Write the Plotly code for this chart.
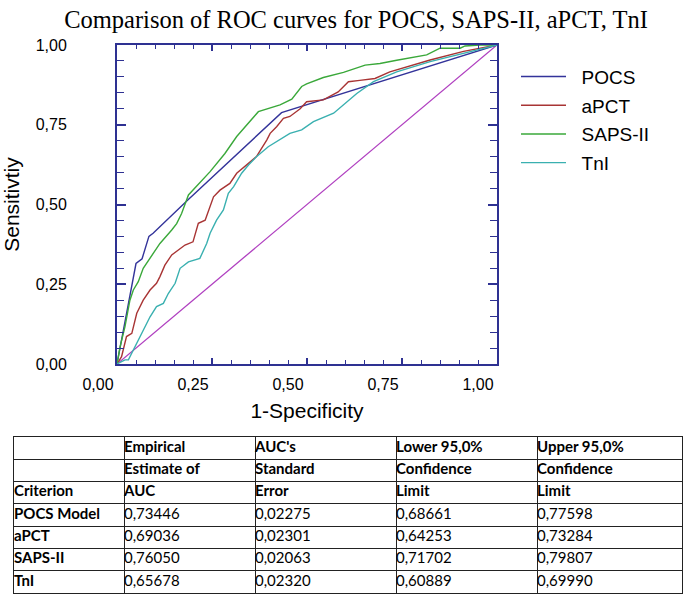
import plotly.graph_objects as go

# ---------------- data ----------------
pocs_x = [0, 0.05, 0.066, 0.084, 0.095, 0.187, 0.433, 1.0]
pocs_y = [0, 0.315, 0.33, 0.40, 0.41, 0.515, 0.788, 1.0]

apct_x = [0, 0.012, 0.025, 0.039, 0.052, 0.069, 0.087, 0.104, 0.113, 0.126, 0.144, 0.166, 0.179, 0.2,
          0.214, 0.232, 0.245, 0.254, 0.271, 0.297, 0.315, 0.341, 0.367, 0.394, 0.403, 0.42, 0.438,
          0.455, 0.482, 0.499, 0.543, 0.582, 0.609, 0.639, 0.679, 0.718, 0.762, 0.824, 0.912, 1.0]
apct_y = [0, 0.023, 0.086, 0.096, 0.159, 0.2, 0.232, 0.253, 0.274, 0.31, 0.342, 0.362, 0.373, 0.383,
          0.441, 0.451, 0.493, 0.524, 0.545, 0.566, 0.598, 0.624, 0.65, 0.702, 0.723, 0.744, 0.77,
          0.776, 0.8, 0.822, 0.828, 0.853, 0.885, 0.889, 0.895, 0.916, 0.932, 0.953, 0.98, 1.0]

saps_x = [0, 0.008, 0.021, 0.034, 0.043, 0.056, 0.069, 0.087, 0.113, 0.144, 0.157, 0.17, 0.188, 0.245,
          0.284, 0.315, 0.372, 0.429, 0.46, 0.486, 0.499, 0.543, 0.596, 0.653, 0.692, 0.736, 0.815,
          0.85, 0.903, 0.916, 0.955, 1.0]
saps_y = [0, 0.054, 0.117, 0.2, 0.232, 0.258, 0.30, 0.331, 0.378, 0.42, 0.44, 0.472, 0.53, 0.603,
          0.66, 0.713, 0.791, 0.812, 0.83, 0.87, 0.878, 0.898, 0.914, 0.937, 0.942, 0.952, 0.969,
          0.99, 0.99, 0.997, 1.0, 1.0]

tni_x = [0, 0.021, 0.03, 0.047, 0.06, 0.074, 0.087, 0.104, 0.122, 0.135, 0.153, 0.166, 0.188, 0.218,
         0.236, 0.245, 0.262, 0.28, 0.293, 0.307, 0.328, 0.346, 0.367, 0.398, 0.429, 0.455, 0.486,
         0.517, 0.57, 0.6, 0.631, 0.675, 0.736, 0.824, 0.912, 1.0]
tni_y = [0, 0.013, 0.013, 0.054, 0.086, 0.117, 0.148, 0.18, 0.19, 0.221, 0.253, 0.30, 0.32, 0.331,
         0.378, 0.41, 0.451, 0.483, 0.535, 0.556, 0.598, 0.624, 0.65, 0.681, 0.705, 0.723, 0.734,
         0.76, 0.786, 0.817, 0.848, 0.885, 0.916, 0.948, 0.974, 1.0]

ref_x = [0, 1]
ref_y = [0, 1]

tick_vals = [0, 0.25, 0.5, 0.75, 1.0]
tick_text = ["0,00", "0,25", "0,50", "0,75", "1,00"]

table_criterion = ["POCS Model", "aPCT", "SAPS-II", "TnI"]
table_auc = ["0,73446", "0,69036", "0,76050", "0,65678"]
table_se = ["0,02275", "0,02301", "0,02063", "0,02320"]
table_lower = ["0,68661", "0,64253", "0,71702", "0,60889"]
table_upper = ["0,77598", "0,73284", "0,79807", "0,69990"]
table_head1 = ["", "Empirical", "AUC's", "Lower 95,0%", "Upper 95,0%"]
table_head2 = ["", "Estimate of", "Standard", "Confidence", "Confidence"]
table_head3 = ["Criterion", "AUC", "Error", "Limit", "Limit"]

# ---------------- layout geometry ----------------
W, H = 685, 594
L, R, T, B = 117, 497, 45, 364
TB_L, TB_R, TB_T, TB_B = 14, 682, 437, 593
col_edges = [0, 110, 241, 382, 523, 668]   # table column boundaries (px widths)

AX = "#2e3192"
fig = go.Figure()

fig.add_trace(go.Scatter(x=ref_x, y=ref_y, mode="lines", line=dict(color="#b040c0", width=1.3),
                         showlegend=False, hoverinfo="skip"))
series = [
    ("POCS", pocs_x, pocs_y, "#33339a"),
    ("aPCT", apct_x, apct_y, "#a83434"),
    ("SAPS-II", saps_x, saps_y, "#3aa83a"),
    ("TnI", tni_x, tni_y, "#3ab0b0"),
]
PAD = "\u00a0\u00a0"
for name, xs, ys, col in series:
    fig.add_trace(go.Scatter(x=xs, y=ys, mode="lines", name=PAD + name, legendgroup=name,
                             line=dict(color=col, width=1.4)))

# ---------------- table (text on its own axes; grid lines = cell borders) ----------------
rows = [table_head1, table_head2, table_head3] + \
       [list(r) for r in zip(table_criterion, table_auc, table_se, table_lower, table_upper)]
tx, ty, tt = [], [], []
for ri, r in enumerate(rows):
    for c in range(5):
        v = r[c]
        if not v:
            continue
        if ri < 3 or c == 0:
            v = "<b>" + v + "</b>"
        tx.append(col_edges[c])
        ty.append(ri + 0.5)
        tt.append(v)
fig.add_trace(go.Scatter(x=tx, y=ty, text=tt, mode="text", textposition="middle right",
                         textfont=dict(family="Lato", size=15, color="black"),
                         xaxis="x2", yaxis="y2", showlegend=False, hoverinfo="skip"))

fig.update_layout(
    width=W, height=H,
    margin=dict(l=0, r=0, t=0, b=0, pad=0, autoexpand=False),
    paper_bgcolor="white", plot_bgcolor="white",
    title=dict(text="Comparison of ROC curves for POCS, SAPS-II, aPCT, TnI",
               font=dict(family="Liberation Serif", size=24.5, color="black"),
               x=356 / W, xref="container", xanchor="center",
               y=1 - 19 / H, yref="container", yanchor="middle"),
    legend=dict(x=516 / W, xanchor="left", y=(H - 57.7) / H, yanchor="top",
                font=dict(family="Liberation Sans", size=19, color="black"),
                tracegroupgap=1, itemwidth=45, bgcolor="rgba(0,0,0,0)"),
    xaxis=dict(domain=[L / W, R / W], automargin=False,
               range=[0, 1], showgrid=False, zeroline=False, showline=True, linecolor=AX, linewidth=2,
               mirror="ticks", ticks="inside", ticklen=6, tickwidth=1.5, tickcolor=AX,
               tickvals=tick_vals, ticktext=tick_text, ticklabelshift=-19, ticklabelstandoff=5,
               tickfont=dict(family="Liberation Sans", size=16, color="black"),
               minor=dict(dtick=0.05, ticks="inside", ticklen=4, tickcolor=AX, tickwidth=1.2, showgrid=False),
               title=dict(text="1-Specificity", standoff=11,
                          font=dict(family="Liberation Sans", size=21, color="black"))),
    yaxis=dict(domain=[(H - B) / H, (H - T) / H], automargin=False,
               range=[0, 1], showgrid=False, zeroline=False, showline=True, linecolor=AX, linewidth=2,
               mirror="ticks", ticks="inside", ticklen=9, tickwidth=1.5, tickcolor=AX,
               tickvals=tick_vals, ticktext=tick_text, ticklabelstandoff=45,
               tickfont=dict(family="Liberation Sans", size=16, color="black"),
               minor=dict(dtick=0.05, ticks="inside", ticklen=7, tickcolor=AX, tickwidth=1.2, showgrid=False),
               title=dict(text="Sensitivtiy", standoff=15,
                          font=dict(family="Liberation Sans", size=21, color="black"))),
    xaxis2=dict(domain=[TB_L / W, TB_R / W], anchor="y2", automargin=False,
                range=[0, col_edges[-1]], tickvals=col_edges, showticklabels=False, ticks="",
                showgrid=True, gridcolor="#222222", gridwidth=1, zeroline=False,
                showline=True, linecolor="#222222", linewidth=1, mirror=True, fixedrange=True),
    yaxis2=dict(domain=[(H - TB_B) / H, (H - TB_T) / H], anchor="x2", automargin=False,
                range=[len(rows), 0], tickvals=list(range(len(rows) + 1)), showticklabels=False, ticks="",
                showgrid=True, gridcolor="#222222", gridwidth=1, zeroline=False,
                showline=True, linecolor="#222222", linewidth=1, mirror=True, fixedrange=True),
)

# remove the browser's default 8px body margin so the figure fills the window exactly
fig.write_html("out.html", config={"displayModeBar": False},
               post_script="document.body.style.margin='0';document.body.style.overflow='hidden';")
